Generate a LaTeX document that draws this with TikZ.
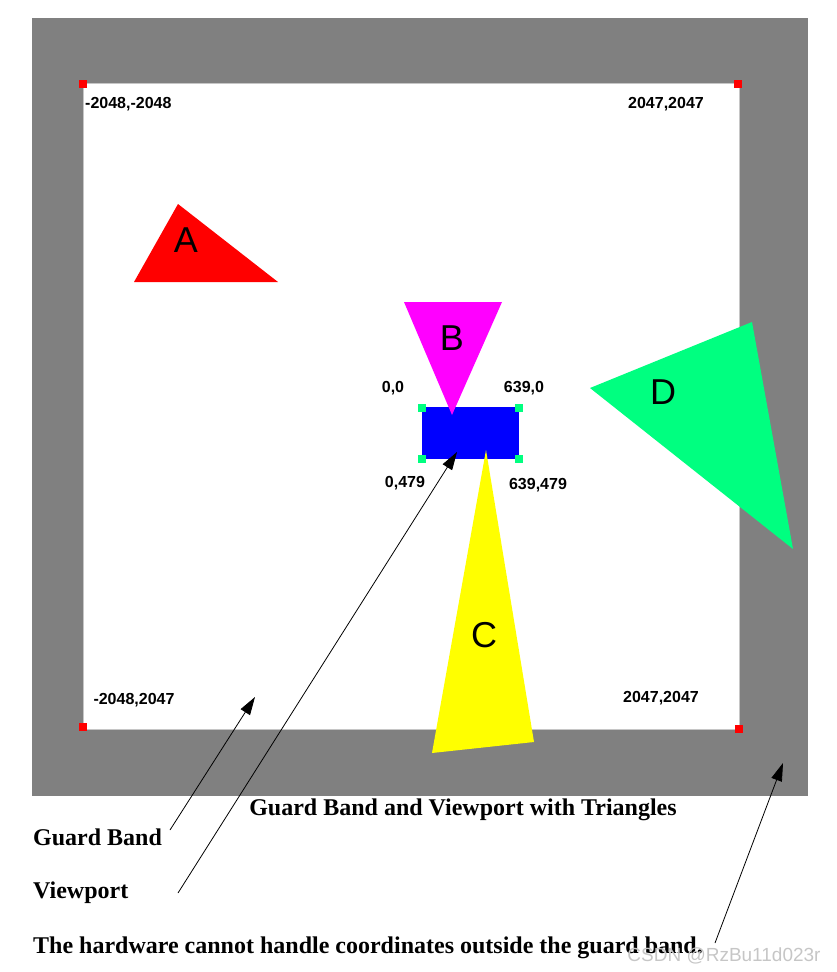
\documentclass[tikz,border=0pt]{standalone}
\usepackage{fontspec}
\setmainfont{Liberation Serif}
\setsansfont{Liberation Sans}
\usetikzlibrary{arrows.meta}
\definecolor{bandgray}{HTML}{808080}
\definecolor{vpblue}{HTML}{0000FF}
\definecolor{trired}{HTML}{FF0000}
\definecolor{trimagenta}{HTML}{FF00FF}
\definecolor{triyellow}{HTML}{FFFF00}
\definecolor{trigreen}{HTML}{00FF80}
\begin{document}
\begin{tikzpicture}[x=1pt,y=-1pt,
    bandcorner/.style = {fill = trired, minimum size = 8pt, inner sep = 0pt},
    vpcorner/.style = {fill = trigreen, minimum size = 8pt, inner sep = 0pt},
    coordlabel/.style = {font = \sffamily\bfseries\fontsize{16}{16}\selectfont, inner sep = 0pt},
    trilabel/.style = {font = \sffamily\fontsize{36}{36}\selectfont, inner sep = 0pt},
    captiontext/.style = {font = \bfseries\fontsize{24}{24}\selectfont, inner sep = 0pt, anchor = west},
    pointer/.style = {-{Triangle[length = 18pt, width = 11pt]}, line width = 0.8pt}]
    \useasboundingbox (0,0) rectangle (836,972);
    % guard band
    \path[fill = bandgray](32,18)rectangle(808,796);
    \path[draw = gray!45, fill = white, line width = 1pt](83,83)rectangle(739,729);
    \node[bandcorner](tl)at(83,84){};
    \node[bandcorner](tr)at(738,84){};
    \node[bandcorner](bl)at(83,727){};
    \node[bandcorner](br)at(739,729){};
    \node[coordlabel, anchor = west](ltl)at(85,104){-2048,-2048};
    \node[coordlabel](ltr)at(666,104){2047,2047};
    \node[coordlabel](lbl)at(134,700){-2048,2047};
    \node[coordlabel](lbr)at(661,698){2047,2047};
    % viewport
    \path[fill = vpblue](422,407)rectangle(519,459);
    \node[vpcorner](v1)at(422,408){};
    \node[vpcorner](v2)at(519,408){};
    \node[vpcorner](v3)at(422,459){};
    \node[vpcorner](v4)at(519,459){};
    \node[coordlabel](lv1)at(393,388){0,0};
    \node[coordlabel](lv2)at(524,388){639,0};
    \node[coordlabel](lv3)at(405,483){0,479};
    \node[coordlabel](lv4)at(538,485){639,479};
    % 三角形
    \path[fill = trired](134,282)--(178,204)--(278,282)--cycle;
    \node[trilabel](A)at(186,240){A};
    \path[fill = trimagenta](404,302)--(502,302)--(452,415)--cycle;
    \node[trilabel](B)at(452,338){B};
    \path[fill = triyellow](486,450)--(432,753)--(534,742)--cycle;
    \node[trilabel](C)at(484,635){C};
    \path[fill = trigreen](590,388)--(752,322)--(793,549)--cycle;
    \node[trilabel](D)at(663,392){D};
    % captions
    \node[captiontext, anchor = center](title)at(463,810){Guard Band and Viewport with Triangles};
    \node[captiontext](gb)at(33,837){Guard Band};
    \node[captiontext](vp)at(33,893){Viewport};
    \node[captiontext](hw)at(33,948){The hardware cannot handle coordinates outside the guard band.};
    \node[font = \sffamily\fontsize{19}{19}\selectfont, text = gray!45, inner sep = 0pt](wm)at(724,956){CSDN @RzBu11d023r};
    % pointers
    \coordinate(gbs)at(170,830);
    \coordinate(gbe)at(255,697);
    \coordinate(vps)at(178,893);
    \coordinate(vpe)at(457,452);
    \coordinate(hws)at(715,943);
    \coordinate(hwe)at(783,763);
    \path[draw, pointer](gbs)--(gbe);
    \path[draw, pointer](vps)--(vpe);
    \path[draw, pointer](hws)--(hwe);
\end{tikzpicture}
\end{document}
